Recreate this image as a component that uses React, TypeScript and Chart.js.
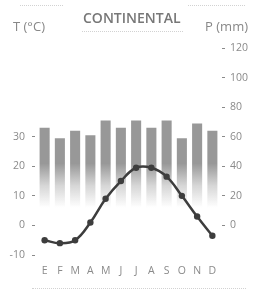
import React, { useEffect, useRef } from "react";
import { Chart, registerables } from "chart.js";

Chart.register(...registerables);

const months = ["E", "F", "M", "A", "M", "J", "J", "A", "S", "O", "N", "D"];
const precipitation = [66, 59, 64, 61, 71, 66, 71, 66, 71, 59, 69, 64];
const temperature = [-5, -6, -5, 1, 9, 15, 19.5, 19.5, 16.5, 10, 3, -3.5];
const tempTicks = [-10, 0, 10, 20, 30];
const precipTicks = [0, 20, 40, 60, 80, 100, 120];
const title = "CONTINENTAL";
const leftTitle = "T (°C)";
const rightTitle = "P (mm)";

const FONT = "'Open Sans', 'DejaVu Sans', sans-serif";
const LABEL_COLOR = "#8a8a8a";
const BAR_RGB = "152,152,152";
const LINE_COLOR = "#3d3d3d";

export default function App() {
  const ref = useRef<HTMLCanvasElement | null>(null);

  useEffect(() => {
    if (!ref.current) return;
    const chart = new Chart(ref.current, {
      type: "bar",
      data: {
        labels: months,
        datasets: [
          {
            type: "line",
            data: temperature,
            yAxisID: "yT",
            order: 0,
            borderColor: LINE_COLOR,
            backgroundColor: LINE_COLOR,
            borderWidth: 2.5,
            pointRadius: 3.2,
            pointBackgroundColor: LINE_COLOR,
            pointBorderWidth: 0,
            tension: 0.4,
          } as any,
          {
            type: "bar",
            data: precipitation,
            yAxisID: "yP",
            order: 1,
            barPercentage: 0.66,
            categoryPercentage: 1,
            backgroundColor: (ctx: any) => {
              const c = ctx.chart;
              const y = c.scales?.yP;
              if (!c.chartArea || !y) return `rgba(${BAR_RGB},1)`;
              const g = c.ctx.createLinearGradient(0, y.getPixelForValue(42), 0, y.getPixelForValue(12));
              g.addColorStop(0, `rgba(${BAR_RGB},1)`);
              g.addColorStop(0.5, `rgba(${BAR_RGB},0.4)`);
              g.addColorStop(1, `rgba(${BAR_RGB},0)`);
              return g;
            },
          } as any,
        ],
      },
      options: {
        responsive: false,
        animation: false,
        devicePixelRatio: 1,
        layout: { padding: { top: 48, left: 8, right: 0, bottom: 0 } },
        plugins: { legend: { display: false }, tooltip: { enabled: false }, title: { display: false } },
        scales: {
          x: {
            grid: { display: false, drawTicks: false },
            border: { display: false },
            ticks: { color: LABEL_COLOR, font: { family: FONT, size: 10.5 }, padding: 10, maxRotation: 0, autoSkip: false },
            afterFit: (s: any) => { s.height = 37; },
          },
          yT: {
            position: "left",
            min: -10,
            max: 60,
            afterBuildTicks: (s: any) => { s.ticks = tempTicks.map((v) => ({ value: v })); },
            ticks: { color: LABEL_COLOR, font: { family: FONT, size: 10.5 }, padding: 7, callback: (v: any) => String(v) },
            grid: { drawOnChartArea: false, drawTicks: true, tickLength: 5, tickColor: LABEL_COLOR, tickBorderDash: [3, 2] },
            border: { display: false },
            afterFit: (s: any) => { s.width = 29; },
          },
          yP: {
            position: "right",
            min: -20,
            max: 120,
            afterBuildTicks: (s: any) => { s.ticks = precipTicks.map((v) => ({ value: v })); },
            ticks: { color: LABEL_COLOR, font: { family: FONT, size: 10.5 }, padding: 5, callback: (v: any) => String(v) },
            grid: { drawOnChartArea: false, drawTicks: true, tickLength: 5, tickColor: LABEL_COLOR, tickBorderDash: [0, 2, 3, 10] },
            border: { display: false },
            afterFit: (s: any) => { s.width = 34; },
          },
        },
      } as any,
    });
    return () => chart.destroy();
  }, []);

  const dotted = (left: number, top: number, width: number): React.CSSProperties => ({
    position: "absolute", left, top, width, height: 0, borderTop: "1px dotted #d2d2d2",
  });

  return (
    <div style={{ position: "fixed", left: 0, top: 0, width: 254, height: 292, background: "#fff", overflow: "hidden" }}>
      <canvas ref={ref} width={254} height={292} style={{ position: "absolute", left: 0, top: 0, width: 254, height: 292 }} />
      <div style={dotted(20, 5, 43)} />
      <div style={dotted(188, 5, 57)} />
      <div style={dotted(82, 31, 101)} />
      <div style={dotted(32, 288, 214)} />
      <div style={{ position: "absolute", left: 83, top: 11, fontFamily: FONT, fontSize: 14, lineHeight: "14px", fontWeight: 600, color: "#777", whiteSpace: "nowrap" }}>{title}</div>
      <div style={{ position: "absolute", left: 13, top: 20, fontFamily: FONT, fontSize: 13, lineHeight: "13px", color: "#888", whiteSpace: "nowrap" }}>{leftTitle}</div>
      <div style={{ position: "absolute", right: 6, top: 20, fontFamily: FONT, fontSize: 13, lineHeight: "13px", color: "#888", whiteSpace: "nowrap" }}>{rightTitle}</div>
    </div>
  );
}
